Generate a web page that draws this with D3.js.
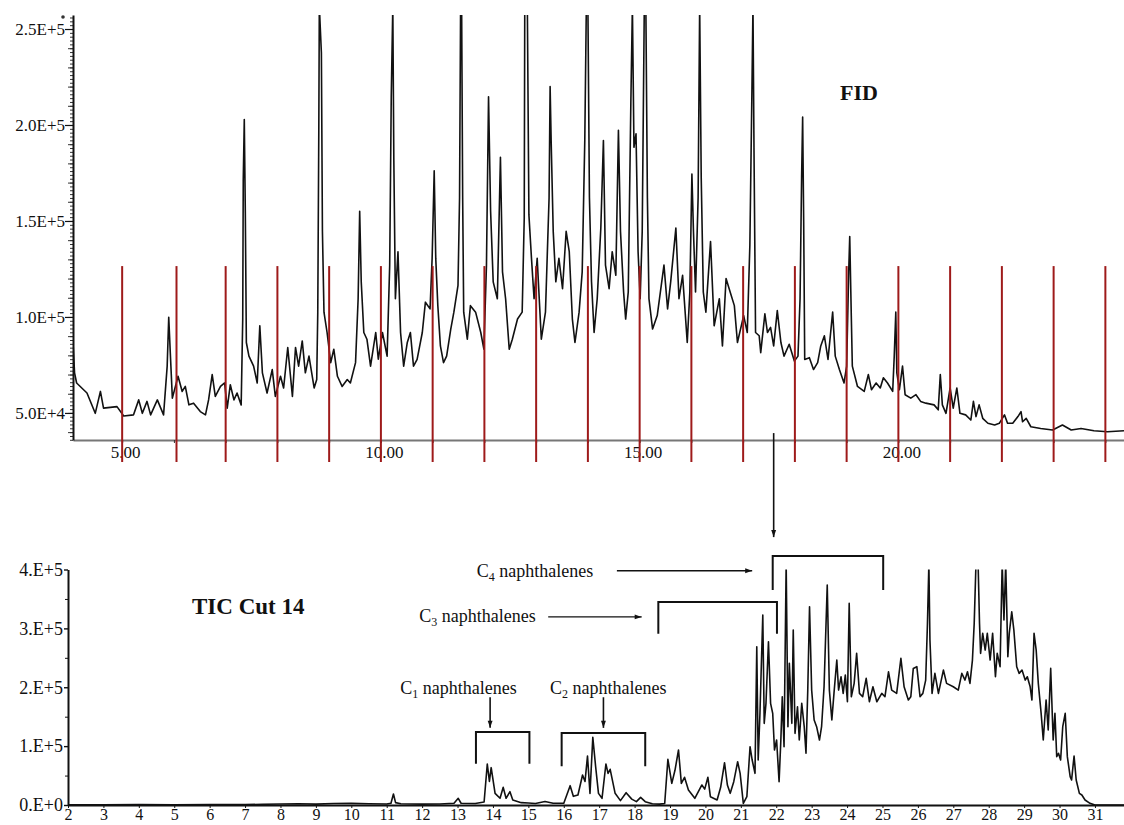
<!DOCTYPE html>
<html>
<head>
<meta charset="utf-8">
<script src="https://cdn.jsdelivr.net/npm/d3@7"></script>
<style>
  body { margin: 0; background: #fff; }
  svg { display: block; }
  text { font-family: "Liberation Serif", "Times New Roman", serif; fill: #111; }
</style>
</head>
<body>
<svg width="1124" height="825"></svg>
<script>
// FID trace: [retention time (min), signal (thousands)]
var fidTrace = [
  [4.05,86.7],[4.08,70.9],[4.12,65.6],[4.32,60.4],[4.48,49.8],[4.58,61.2],[4.64,52.5],[4.90,53.3],
  [5.03,48.4],[5.22,49],[5.32,56.8],[5.39,49.8],[5.48,56],[5.55,49],[5.68,56.8],[5.80,49],[5.87,74.4],
  [5.90,99.8],[5.93,81.4],[5.97,57.7],[6.08,69.1],[6.16,61.2],[6.22,63.8],[6.29,54.2],[6.38,55.1],
  [6.51,50.7],[6.61,49],[6.67,56.8],[6.74,70],[6.80,58.6],[6.90,63.8],[6.98,65.6],[7.03,52.5],[7.09,64.7],
  [7.16,56.8],[7.22,60.4],[7.30,54.2],[7.33,98.9],[7.34,170.9],[7.36,202.8],[7.38,154.2],[7.40,86.7],
  [7.45,79.6],[7.54,74.4],[7.61,65.6],[7.66,95.4],[7.71,70.9],[7.80,60.4],[7.90,72.6],[7.96,58.6],
  [8.06,69.1],[8.12,63],[8.20,84.1],[8.29,58.6],[8.35,84.1],[8.41,74.4],[8.48,87.5],[8.54,70.9],
  [8.61,79.6],[8.71,63],[8.76,67.4],[8.78,102.5],[8.80,197.2],[8.81,262],[8.85,237.5],[8.87,144.6],
  [8.90,102.5],[8.96,91.9],[9.03,76.2],[9.09,83.2],[9.16,69.1],[9.25,63.8],[9.35,67.4],[9.41,65.6],
  [9.51,76.2],[9.56,109.5],[9.59,155.1],[9.62,118.3],[9.67,91.9],[9.73,88.4],[9.80,74.4],[9.90,91.9],
  [9.95,78],[10.03,91.9],[10.12,79.6],[10.17,127],[10.20,214.7],[10.23,262],[10.25,181.4],[10.28,109.5],
  [10.33,134],[10.38,91.9],[10.44,74.4],[10.51,86.7],[10.57,91.9],[10.63,74.4],[10.70,77.9],[10.80,91.9],
  [10.86,107.7],[10.95,104.2],[10.99,130.5],[11.03,176.2],[11.06,130.5],[11.10,105.9],[11.15,84.9],
  [11.21,76.2],[11.27,79.6],[11.35,93.7],[11.41,102.5],[11.49,116.5],[11.52,162.1],[11.54,262],
  [11.56,262],[11.58,162.1],[11.60,102.5],[11.67,88.4],[11.73,105.9],[11.83,102.5],[11.93,91.9],
  [11.99,83.2],[12.04,127],[12.08,214.7],[12.12,155.1],[12.17,118.3],[12.25,109.5],[12.31,183.2],
  [12.35,123.5],[12.41,109.5],[12.48,83.2],[12.54,88.4],[12.64,98.9],[12.73,102.5],[12.77,151.6],
  [12.78,262],[12.83,262],[12.86,153.3],[12.91,130.5],[12.96,109.5],[13.02,130.5],[13.10,88.4],
  [13.18,102.5],[13.25,162.1],[13.27,220],[13.29,191.9],[13.33,144.6],[13.38,118.3],[13.44,130.5],
  [13.51,114.7],[13.58,144.6],[13.64,134],[13.70,98.9],[13.75,86.7],[13.83,102.5],[13.89,123.5],
  [13.94,191.9],[13.97,262],[14.00,262],[14.03,162.1],[14.07,118.3],[14.12,91.9],[14.18,109.5],
  [14.25,146.3],[14.30,191.9],[14.34,127],[14.41,114.7],[14.47,134],[14.54,121.7],[14.59,197.2],
  [14.63,144.6],[14.69,113],[14.73,98.9],[14.78,113],[14.83,211.2],[14.86,262],[14.89,188.4],
  [14.93,195.4],[14.97,134],[15.01,109.5],[15.05,144.6],[15.09,262],[15.12,262],[15.15,162.1],
  [15.18,109.5],[15.25,93.7],[15.34,100.7],[15.47,127],[15.54,104.2],[15.60,118.3],[15.70,146.3],
  [15.76,109.5],[15.83,121.7],[15.92,86.7],[15.97,113],[16.01,174.4],[16.04,144.6],[16.08,113],
  [16.13,162.1],[16.16,262],[16.19,172.6],[16.23,113],[16.28,102.5],[16.37,139.3],[16.44,95.4],
  [16.54,109.5],[16.60,84.9],[16.67,120],[16.73,114.7],[16.83,105.9],[16.89,86.7],[17.01,100.7],
  [17.08,91.9],[17.13,137.5],[17.17,218.3],[17.19,262],[17.21,186.7],[17.24,91.9],[17.31,90.2],
  [17.34,81.4],[17.42,101.6],[17.47,91.9],[17.53,94.6],[17.59,84.9],[17.66,103.3],[17.73,86.7],
  [17.79,79.6],[17.89,85.8],[17.99,77],[18.06,79.6],[18.10,109.5],[18.13,172.6],[18.15,204.2],
  [18.17,149.8],[18.19,77.9],[18.28,78.8],[18.36,72.6],[18.44,76.2],[18.50,84.9],[18.57,90.2],
  [18.64,77.9],[18.73,102.5],[18.78,79.6],[18.86,72.6],[18.95,65.6],[19.00,74.4],[19.04,123.5],
  [19.06,141.9],[19.09,100.7],[19.11,74.4],[19.21,63.8],[19.34,61.2],[19.42,70],[19.48,62.1],
  [19.57,65.6],[19.65,63],[19.71,68.3],[19.79,65.6],[19.89,61.2],[19.92,79.6],[19.95,102.5],
  [19.97,70.9],[20.02,62.1],[20.08,74.4],[20.13,59.5],[20.24,57.7],[20.34,59.5],[20.43,56],
  [20.53,55.1],[20.69,54.2],[20.77,51.6],[20.81,70],[20.85,54.2],[20.92,49.8],[21.00,63],[21.06,52.5],
  [21.13,63],[21.19,49.8],[21.30,49],[21.40,46.3],[21.45,56],[21.50,48.1],[21.56,54.2],[21.63,47.2],
  [21.73,44.6],[21.86,43.7],[21.95,44.6],[22.05,49],[22.11,44.6],[22.21,44.6],[22.31,48.1],[22.37,50.7],
  [22.40,45.4],[22.47,47.2],[22.56,42.8],[22.75,41.9],[22.98,41.1],[23.17,43.7],[23.34,41.1],
  [23.53,41.9],[23.78,40.7],[24.04,40.2],[24.36,40.7]
];

// TIC trace of cut 14: [retention time (min), abundance (thousands)]
var ticTrace = [
  [2.0,0.5],[3,0.5],[4,0.6],[5,0.5],[6,0.8],[7,0.7],[7.5,1.2],[8,1.8],[8.5,2.2],[9,1.5],[9.5,2.5],
  [10,2.8],[10.5,2.2],[11.0,1.8],[11.12,3],[11.19,18.7],[11.25,4],[11.4,2],[12,1.5],[12.5,1.8],
  [12.9,3],[13.02,11.4],[13.1,3],[13.5,2.5],[13.75,5],[13.84,69.6],[13.9,40],[13.95,63.4],[14.06,19.8],
  [14.2,11.4],[14.29,30],[14.37,11.4],[14.48,22.6],[14.56,8.5],[14.8,4],[15.0,3.4],[15.2,2.5],
  [15.47,6],[15.7,3],[16.0,3],[16.18,32.8],[16.27,14.7],[16.4,17],[16.53,50.9],[16.6,40],[16.67,83.2],
  [16.74,19.8],[16.82,114.9],[16.9,65],[16.98,19.8],[17.08,11.4],[17.19,69.6],[17.25,53.7],
  [17.31,60.6],[17.45,19.8],[17.6,7.4],[17.76,20.9],[17.92,10],[18.05,5.7],[18.17,13],[18.3,5.7],
  [18.5,2],[18.7,1.5],[18.85,2.5],[18.94,77.6],[19.05,36.8],[19.14,59],[19.24,93.4],[19.32,36.8],
  [19.41,47],[19.52,25.5],[19.7,11.4],[19.9,34],[19.98,27],[20.07,47],[20.14,14.1],[20.33,8.5],
  [20.43,30],[20.54,71.8],[20.62,34],[20.7,19.8],[20.8,39.6],[20.91,73.5],[20.98,53.7],[21.07,2.8],
  [21.17,14.1],[21.26,99],[21.32,76.4],[21.40,53.8],[21.45,268.8],[21.49,76.4],[21.54,155.7],
  [21.62,322.6],[21.66,138.7],[21.71,172.7],[21.78,277.3],[21.84,172.7],[21.90,155.7],[21.95,93.4],
  [22.01,110.4],[22.08,39.6],[22.13,110.4],[22.17,183.9],[22.22,99],[22.28,410],[22.33,133],
  [22.37,240.6],[22.44,138.7],[22.48,297.1],[22.53,121.7],[22.60,166.9],[22.65,110.4],[22.72,172.7],
  [22.79,133],[22.84,87.8],[22.89,195.2],[22.94,336.7],[23.00,195.2],[23.07,144.3],[23.14,133],
  [23.22,110.4],[23.28,133],[23.35,200.8],[23.44,373.5],[23.50,195.2],[23.57,144.3],[23.63,189.6],
  [23.71,246.2],[23.76,195.2],[23.83,217.8],[23.89,189.6],[23.95,220.7],[24.01,175.4],[24.06,342.4],
  [24.12,183.9],[24.20,206.6],[24.27,257.6],[24.35,189.6],[24.44,183.9],[24.54,215.1],[24.63,175.4],
  [24.73,200.8],[24.84,175.4],[24.98,189.6],[25.07,183.9],[25.17,226.3],[25.26,195.2],[25.40,189.6],
  [25.52,249],[25.61,200.8],[25.73,178.3],[25.80,183.9],[25.87,232],[25.97,234.9],[26.06,183.9],
  [26.14,189.6],[26.22,212.2],[26.27,308.5],[26.31,410],[26.34,280.1],[26.40,189.6],[26.48,223.6],
  [26.58,189.6],[26.72,229.2],[26.81,206.6],[27.00,200.8],[27.14,195.2],[27.24,223.6],[27.33,212.2],
  [27.40,226.3],[27.47,206.6],[27.54,246.2],[27.59,308.5],[27.64,410],[27.70,410],[27.74,308.5],
  [27.77,257.6],[27.83,291.5],[27.90,263.2],[27.96,291.5],[28.04,246.2],[28.11,291.5],[28.19,217.8],
  [28.24,257.6],[28.32,234.9],[28.38,410],[28.43,314.1],[28.48,410],[28.54,251.9],[28.58,291.5],
  [28.65,328.2],[28.71,297.1],[28.79,234.9],[28.86,223.6],[28.94,229.2],[29.03,212.2],[29.09,217.8],
  [29.17,200.8],[29.22,178.3],[29.28,291.5],[29.34,263.2],[29.40,206.6],[29.48,155.7],[29.54,110.4],
  [29.62,178.3],[29.68,127.3],[29.75,232],[29.82,110.4],[29.87,155.7],[29.92,82.1],[29.97,87.8],
  [30.03,76.4],[30.09,133],[30.16,155.7],[30.22,82.1],[30.30,48.1],[30.34,42.4],[30.41,83.2],
  [30.47,42.4],[30.56,19.8],[30.63,17],[30.72,8.5],[30.86,2.8],[31.0,0],[31.82,0]
];

// fraction cut times (red lines), minutes
var cutTimes = [5, 6.05, 7, 8, 9, 10, 11, 12, 13, 14, 15, 16, 17, 18, 19, 20, 21, 22, 23, 24];

// tick values and labels
var fidXTicks = d3.range(5, 25);
var fidYTicks = [50000, 100000, 150000, 200000, 250000];
var fidYLabels = ["5.0E+4", "1.0E+5", "1.5E+5", "2.0E+5", "2.5E+5"];
var ticXTicks = d3.range(2, 32);
var ticYTicks = [0, 100000, 200000, 300000, 400000];
var ticYLabels = ["0.E+0", "1.E+5", "2.E+5", "3.E+5", "4.E+5"];

// naphthalene groups: bracket start/end (min), label text and subscript
var groups = [
  {sub: "1", t0: 13.52, t1: 15.03, top: 124000, bottom: 70000, arrowT: 13.92, labelT: 11.38},
  {sub: "2", t0: 15.94, t1: 18.30, top: 122500, bottom: 66000, arrowT: 17.12, labelT: 15.61},
  {sub: "3", t0: 18.67, t1: 22.02, top: 345000, bottom: 291000, arrowFrom: 15.56, arrowTo: 18.20, labelT: 11.92, labelV: 310000, arrowV: 319500},
  {sub: "4", t0: 21.90, t1: 25.02, top: 423000, bottom: 365000, arrowFrom: 17.50, arrowTo: 21.32, labelT: 13.54, labelV: 387000, arrowV: 397800}
];

var svg = d3.select("svg");

var fidX = d3.scaleLinear().domain([4.05, 24.36]).range([73, 1124]);
var fidY = d3.scaleLinear().domain([35900, 257300]).range([440, 15]);
var ticX = d3.scaleLinear().domain([2, 31.82]).range([68, 1124]);
var ticY = d3.scaleLinear().domain([0, 400000]).range([805, 569.5]);

var defs = svg.append("defs");
defs.append("clipPath").attr("id", "clipFid").append("rect")
  .attr("x", 73).attr("y", 15).attr("width", 1124 - 73).attr("height", 440 - 15);
defs.append("clipPath").attr("id", "clipTic").append("rect")
  .attr("x", 68).attr("y", 569.5).attr("width", 1124 - 68).attr("height", 805 - 569.5);
defs.append("marker")
  .attr("id", "head")
  .attr("markerUnits", "userSpaceOnUse")
  .attr("viewBox", "0 0 10 10")
  .attr("refX", 10).attr("refY", 5)
  .attr("markerWidth", 8).attr("markerHeight", 7)
  .attr("orient", "auto")
  .append("path").attr("d", "M0,1.5L10,5L0,8.5Z").attr("fill", "#111");

// ---------- top panel: FID ----------
var fidLine = d3.line()
  .x(function(d) { return fidX(d[0]); })
  .y(function(d) { return fidY(d[1] * 1000); });

// x axis
svg.append("g")
  .attr("transform", "translate(0,440)")
  .call(d3.axisBottom(fidX).tickValues(fidXTicks).tickSize(3).tickSizeOuter(0).tickPadding(3)
    .tickFormat(function(d) { return d % 5 === 0 ? d.toFixed(2) : ""; }))
  .call(function(g) {
    g.select(".domain").attr("stroke", "#777").attr("stroke-width", 2);
    g.selectAll(".tick line").attr("stroke", "#333");
    g.selectAll(".tick text").attr("font-size", 17).attr("dx", 3)
      .attr("font-family", "Liberation Serif, serif").attr("fill", "#111");
  });

// y axis: minor, medium and major ticks
svg.append("g").attr("transform", "translate(73,0)")
  .call(d3.axisLeft(fidY).tickValues(d3.range(36000, 257000, 2000)).tickSize(3).tickFormat(""))
  .call(function(g) { g.select(".domain").remove(); g.selectAll("line").attr("stroke", "#333"); });
svg.append("g").attr("transform", "translate(73,0)")
  .call(d3.axisLeft(fidY).tickValues(d3.range(40000, 257000, 10000)).tickSize(5).tickFormat(""))
  .call(function(g) { g.select(".domain").remove(); g.selectAll("line").attr("stroke", "#333"); });
svg.append("g").attr("transform", "translate(73,0)")
  .call(d3.axisLeft(fidY).tickValues(fidYTicks).tickSize(8).tickSizeOuter(0).tickPadding(0)
    .tickFormat(function(d, i) { return fidYLabels[i]; }))
  .call(function(g) {
    g.select(".domain").attr("stroke", "#111").attr("stroke-width", 2);
    g.selectAll(".tick line").attr("stroke", "#111").attr("stroke-width", 1.2);
    g.selectAll(".tick text").attr("font-size", 17)
      .attr("font-family", "Liberation Serif, serif").attr("fill", "#111");
  });
svg.append("circle").attr("cx", 63).attr("cy", 17).attr("r", 1.8).attr("fill", "#333");

// trace
svg.append("path")
  .datum(fidTrace)
  .attr("clip-path", "url(#clipFid)")
  .attr("fill", "none")
  .attr("stroke", "#111")
  .attr("stroke-width", 1.6)
  .attr("stroke-linejoin", "round")
  .attr("d", fidLine);

// fraction cut lines
svg.append("g").selectAll("line")
  .data(cutTimes)
  .join("line")
  .attr("x1", function(d) { return fidX(d); })
  .attr("x2", function(d) { return fidX(d); })
  .attr("y1", fidY(126500))
  .attr("y2", fidY.range()[0] + 22)
  .attr("stroke", "#9e1a1a")
  .attr("stroke-width", 2);

svg.append("text").attr("x", 840).attr("y", 100)
  .attr("font-size", 22).attr("font-weight", "bold").text("FID");

// arrow from cut 14 to the TIC panel
svg.append("line")
  .attr("x1", fidX(17.59)).attr("x2", fidX(17.59))
  .attr("y1", fidY(39500)).attr("y2", ticY(455000))
  .attr("stroke", "#111").attr("stroke-width", 1.6)
  .attr("marker-end", "url(#head)");

// ---------- bottom panel: TIC Cut 14 ----------
var ticLine = d3.line()
  .x(function(d) { return ticX(d[0]); })
  .y(function(d) { return ticY(d[1] * 1000); });

svg.append("g")
  .attr("transform", "translate(0,805)")
  .call(d3.axisBottom(ticX).tickValues(ticXTicks).tickSize(3).tickSizeOuter(0).tickPadding(1)
    .tickFormat(d3.format("d")))
  .call(function(g) {
    g.select(".domain").attr("stroke", "#111").attr("stroke-width", 2);
    g.selectAll(".tick line").attr("stroke", "#111");
    g.selectAll(".tick text").attr("font-size", 16)
      .attr("font-family", "Liberation Serif, serif").attr("fill", "#111");
  });

svg.append("g").attr("transform", "translate(68,0)")
  .call(d3.axisLeft(ticY).tickValues([50000, 150000, 250000, 350000]).tickSize(3).tickFormat(""))
  .call(function(g) { g.select(".domain").remove(); g.selectAll("line").attr("stroke", "#111"); });
svg.append("g").attr("transform", "translate(68,0)")
  .call(d3.axisLeft(ticY).tickValues(ticYTicks).tickSize(4).tickSizeOuter(0).tickPadding(1)
    .tickFormat(function(d, i) { return ticYLabels[i]; }))
  .call(function(g) {
    g.select(".domain").attr("stroke", "#111").attr("stroke-width", 2);
    g.selectAll(".tick line").attr("stroke", "#111").attr("stroke-width", 1.4);
    g.selectAll(".tick text").attr("font-size", 18)
      .attr("font-family", "Liberation Serif, serif").attr("fill", "#111");
  });

svg.append("path")
  .datum(ticTrace)
  .attr("clip-path", "url(#clipTic)")
  .attr("fill", "none")
  .attr("stroke", "#111")
  .attr("stroke-width", 1.6)
  .attr("stroke-linejoin", "round")
  .attr("d", ticLine);

svg.append("text").attr("x", 192).attr("y", 614)
  .attr("font-size", 23).attr("font-weight", "bold").text("TIC Cut 14");

// naphthalene brackets
var ann = svg.append("g").attr("fill", "none").attr("stroke", "#111").attr("stroke-width", 2);
groups.forEach(function(g) {
  ann.append("path").attr("d",
    "M" + ticX(g.t0) + "," + ticY(g.bottom) +
    "V" + ticY(g.top) + "H" + ticX(g.t1) + "V" + ticY(g.bottom));
});

function label(t, v, sub) {
  var txt = svg.append("text").attr("x", ticX(t)).attr("y", ticY(v)).attr("font-size", 18);
  txt.append("tspan").text("C");
  txt.append("tspan").attr("font-size", 12).attr("dy", 4).text(sub);
  txt.append("tspan").attr("dy", -4).text(" naphthalenes");
}

groups.forEach(function(g) {
  if (g.arrowT !== undefined) {
    label(g.labelT, 188000, g.sub);
    svg.append("line")
      .attr("x1", ticX(g.arrowT)).attr("x2", ticX(g.arrowT))
      .attr("y1", ticY(183000)).attr("y2", ticY(131000))
      .attr("stroke", "#111").attr("stroke-width", 1.6)
      .attr("marker-end", "url(#head)");
  } else {
    label(g.labelT, g.labelV, g.sub);
    svg.append("line")
      .attr("x1", ticX(g.arrowFrom)).attr("x2", ticX(g.arrowTo))
      .attr("y1", ticY(g.arrowV)).attr("y2", ticY(g.arrowV))
      .attr("stroke", "#111").attr("stroke-width", 1.4)
      .attr("marker-end", "url(#head)");
  }
});
</script>
</body>
</html>
